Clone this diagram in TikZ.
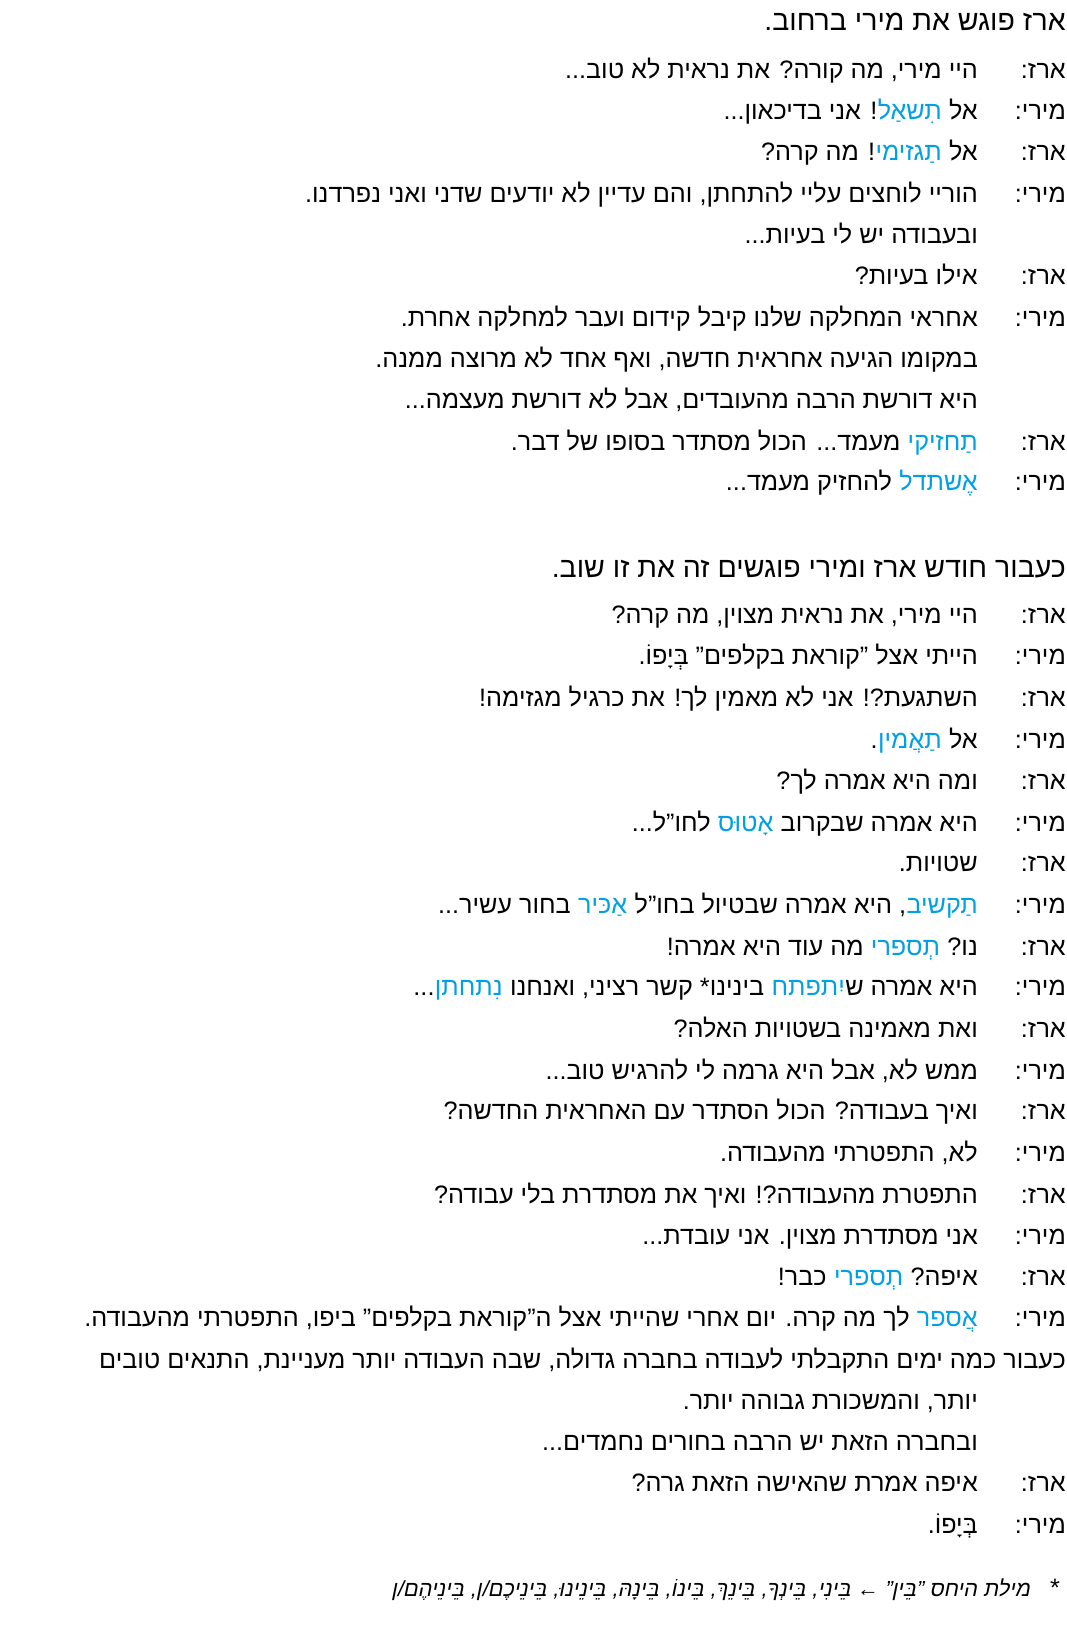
\documentclass[tikz,border=0pt]{standalone}
\usepackage{fontspec}
\setmainfont[Script=Hebrew]{Liberation Sans}
\newfontfamily\footfont[Script=Hebrew,FakeSlant=0.2]{Liberation Sans}
\TeXXeTstate=1
\definecolor{hblue}{RGB}{0,160,227}
\begin{document}
\begin{tikzpicture}[x=1pt,y=1pt,
  txt/.style={anchor=base east,inner sep=0pt,font=\fontsize{25.2}{28}\selectfont},
  btxt/.style={txt,text=hblue},
  hd/.style={anchor=base east,inner sep=0pt,font=\fontsize{28.5}{32}\selectfont}]
\useasboundingbox (0,0) rectangle (1066,-1648);
\newcommand{\Y}[1]{-#1*1.041-9}
\newcommand{\dl}[4]{%
  \node[txt] (s#1) at (1066,\Y{#2}) {\beginR #3\endR};
  \node[txt] (t#1) at (978,\Y{#2}) {\beginR #4\endR};}
\newcommand{\cl}[3]{\node[txt] (c#1) at (978,\Y{#2}) {\beginR #3\endR};}
% segment: name, previous, gap, style, text
\newcommand{\seg}[5]{\node[#4] (#1) at ([xshift=-#3pt]#2.base west) {\beginR #5\endR};}
\newcommand{\lab}[3]{\node[txt] (#1) at (1066,\Y{#2}) {\beginR #3\endR};}
\newcommand{\first}[4]{\node[#3] (#1) at (978,\Y{#2}) {\beginR #4\endR};}
\def\g{7}
\node[hd] (h1) at (1066,\Y{20}-1) {\beginR ארז פוגש את מירי ברחוב.\endR};
\dl{1}{67}{ארז:}{היי מירי, מה קורה? את נראית לא טוב...}
\lab{s2}{106}{מירי:}\first{a2}{106}{txt}{אל}\seg{b2}{a2}{\g}{btxt}{תִשאַל}\seg{c2}{b2}{0}{txt}{! אני בדיכאון...}
\lab{s3}{146}{ארז:}\first{a3}{146}{txt}{אל}\seg{b3}{a3}{\g}{btxt}{תַגזימי}\seg{c3}{b3}{0}{txt}{! מה קרה?}
\dl{4}{186}{מירי:}{הוריי לוחצים עליי להתחתן, והם עדיין לא יודעים שדני ואני נפרדנו.}
\cl{4}{225}{ובעבודה יש לי בעיות...}
\dl{5}{265}{ארז:}{אילו בעיות?}
\dl{6}{305}{מירי:}{אחראי המחלקה שלנו קיבל קידום ועבר למחלקה אחרת.}
\cl{6}{344}{במקומו הגיעה אחראית חדשה, ואף אחד לא מרוצה ממנה.}
\cl{7}{384}{היא דורשת הרבה מהעובדים, אבל לא דורשת מעצמה...}
\lab{s8}{424}{ארז:}\first{a8}{424}{btxt}{תַחזיקי}\seg{b8}{a8}{\g}{txt}{מעמד... הכול מסתדר בסופו של דבר.}
\lab{s9}{463}{מירי:}\first{a9}{463}{btxt}{אֶשתדל}\seg{b9}{a9}{\g}{txt}{להחזיק מעמד...}
\node[hd] (h2) at (1066,\Y{545}-1) {\beginR כעבור חודש ארז ומירי פוגשים זה את זו שוב.\endR};
\dl{10}{590}{ארז:}{היי מירי, את נראית מצוין, מה קרה?}
\dl{11}{630}{מירי:}{הייתי אצל ”קוראת בקלפים” בְּיָפוֹ.}
\dl{12}{670}{ארז:}{השתגעת?! אני לא מאמין לך! את כרגיל מגזימה!}
\lab{s13}{710}{מירי:}\first{a13}{710}{txt}{אל}\seg{b13}{a13}{\g}{btxt}{תַאֲמין}\seg{c13}{b13}{0}{txt}{.}
\dl{14}{750}{ארז:}{ומה היא אמרה לך?}
\lab{s15}{790}{מירי:}\first{a15}{790}{txt}{היא אמרה שבקרוב}\seg{b15}{a15}{\g}{btxt}{אָטוּס}\seg{c15}{b15}{\g}{txt}{לחו”ל...}
\dl{16}{829}{ארז:}{שטויות.}
\lab{s17}{869}{מירי:}\first{a17}{869}{btxt}{תַקשיב}\seg{b17}{a17}{0}{txt}{, היא אמרה שבטיול בחו”ל}\seg{c17}{b17}{\g}{btxt}{אַכּיר}\seg{d17}{c17}{\g}{txt}{בחור עשיר...}
\lab{s18}{909}{ארז:}\first{a18}{909}{txt}{נו?}\seg{b18}{a18}{\g}{btxt}{תְספרי}\seg{c18}{b18}{\g}{txt}{מה עוד היא אמרה!}
\lab{s19}{948}{מירי:}\first{a19}{948}{txt}{היא אמרה ש}\seg{b19}{a19}{0}{btxt}{יִתפתח}\seg{c19}{b19}{\g}{txt}{בינינו* קשר רציני, ואנחנו}\seg{d19}{c19}{\g}{btxt}{נִתחתן}\seg{e19}{d19}{0}{txt}{...}
\dl{20}{988}{ארז:}{ואת מאמינה בשטויות האלה?}
\dl{21}{1028}{מירי:}{ממש לא, אבל היא גרמה לי להרגיש טוב...}
\dl{22}{1067}{ארז:}{ואיך בעבודה? הכול הסתדר עם האחראית החדשה?}
\dl{23}{1107}{מירי:}{לא, התפטרתי מהעבודה.}
\dl{24}{1147}{ארז:}{התפטרת מהעבודה?! ואיך את מסתדרת בלי עבודה?}
\dl{25}{1187}{מירי:}{אני מסתדרת מצוין. אני עובדת...}
\lab{s26}{1226}{ארז:}\first{a26}{1226}{txt}{איפה?}\seg{b26}{a26}{\g}{btxt}{תְספרי}\seg{c26}{b26}{\g}{txt}{כבר!}
\lab{s27}{1266}{מירי:}\first{a27}{1266}{btxt}{אֲספר}\seg{b27}{a27}{\g}{txt}{לך מה קרה. יום אחרי שהייתי אצל ה”קוראת בקלפים” ביפו, התפטרתי מהעבודה.}
\node[txt] (c27) at (1066,\Y{1306}) {\beginR כעבור כמה ימים התקבלתי לעבודה בחברה גדולה, שבה העבודה יותר מעניינת, התנאים טובים\endR};
\cl{28}{1345}{יותר, והמשכורת גבוהה יותר.}
\cl{29}{1385}{ובחברה הזאת יש הרבה בחורים נחמדים...}
\dl{30}{1424}{ארז:}{איפה אמרת שהאישה הזאת גרה?}
\dl{31}{1464}{מירי:}{בְּיָפוֹ.}
\node[txt] (star) at (1060,\Y{1527}+2) {*};
\node[txt,font=\fontsize{21.8}{24}\selectfont\footfont] (fn) at (1030,\Y{1527}+2) {\beginR מילת היחס ”בֵּין” ← בֵּינִי, בֵּינְךָ, בֵּינֵךְ, בֵּינוֹ, בֵּינָהּ, בֵּינֵינוּ, בֵּינֵיכֶם/ן, בֵּינֵיהֶם/ן\endR};
\end{tikzpicture}
\end{document}
